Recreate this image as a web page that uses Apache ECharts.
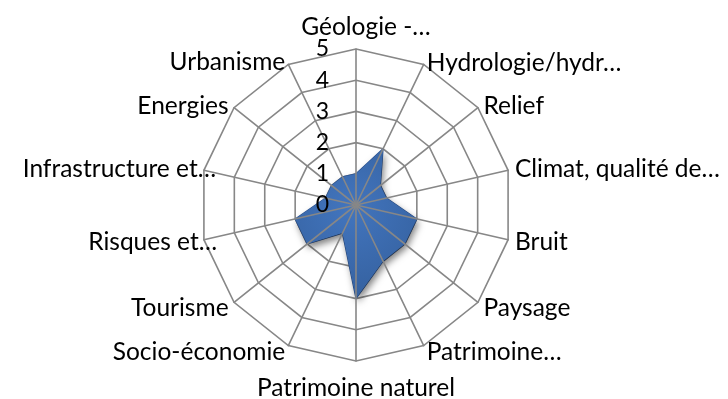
<!DOCTYPE html>
<html>
<head>
<meta charset="utf-8">
<script src="https://cdn.jsdelivr.net/npm/echarts@6/dist/echarts.min.js"></script>
<style>
  html, body { margin: 0; padding: 0; background: #ffffff; }
  #chart { width: 728px; height: 399px; }
</style>
</head>
<body>
<div id="chart"></div>
<script>
// Themes of the assessment, listed clockwise from the top axis
const themes = [
  'Géologie -…',
  'Hydrologie/hydr…',
  'Relief',
  'Climat, qualité de…',
  'Bruit',
  'Paysage',
  'Patrimoine…',
  'Patrimoine naturel',
  'Socio-économie',
  'Tourisme',
  'Risques et…',
  'Infrastructure et…',
  'Energies',
  'Urbanisme'
];

// Score given to each theme (same order as above)
const scores = [1, 2, 1, 1, 2, 2, 2, 3, 1, 2, 2, 1, 1, 1];

// Scale of the radial axis: 0 … 5
const scaleMin = 0;
const scaleMax = 5;
const scaleSteps = 5;

const fontFamily = 'Lato, "Liberation Sans", sans-serif';

// Per-theme nudges of the axis names (text padding, [top, right, bottom, left])
const namePadding = [
  [0, 0, 2, 20],
  [10, 0, 0, 0],
  [6, 0, 0, 0],
  [0, 0, 0, 0],
  [2, 0, 0, 0],
  [3, 0, 0, 0],
  [0, 0, 0, 0],
  [8, 0, 0, 0],
  [0, 0, 0, 0],
  [2, 0, 0, 0],
  [2, -20, 0, 0],
  [0, -19, 0, 0],
  [6, 0, 0, 0],
  [8, 0, 0, 0]
];

// ECharts lays radar indicators out counter-clockwise; keep the first theme
// on top and reverse the rest so the themes read clockwise.
const order = [0].concat(themes.map((_, i) => i).slice(1).reverse());

const baseIndicators = order.map(i => ({ name: themes[i], min: scaleMin, max: scaleMax }));
// Spoke overlay: same axes, with the tick labels shown on the top one only
const spokeIndicators = order.map((i, k) => {
  const item = { name: themes[i], min: scaleMin, max: scaleMax };
  if (k === 0) item.axisLabel = { show: true };
  return item;
});
const values = order.map(i => scores[i]);

const nameRich = {};
themes.forEach((_, i) => {
  nameRich['t' + i] = {
    color: '#000000',
    fontFamily: fontFamily,
    fontSize: 24.5,
    padding: namePadding[i]
  };
});

const gridColor = '#878787';
const center = [356, 205];
const radius = 156;

const chart = echarts.init(document.getElementById('chart'), null, { renderer: 'canvas' });
chart.setOption({
  animation: false,
  backgroundColor: '#ffffff',
  radar: [
    {
      // Rings and theme names, beneath the filled area
      center: center,
      radius: radius,
      startAngle: 90,
      splitNumber: scaleSteps,
      shape: 'polygon',
      indicator: baseIndicators,
      nameGap: 7,
      axisName: {
        color: '#000000',
        fontFamily: fontFamily,
        fontSize: 24.5,
        formatter: function (name) {
          return '{t' + themes.indexOf(name) + '|' + name + '}';
        },
        rich: nameRich
      },
      splitLine: { lineStyle: { color: gridColor, width: 1.6 } },
      splitArea: { show: false },
      axisLine: { show: false },
      axisTick: { show: false },
      axisLabel: { show: false },
      z: 0
    },
    {
      // Spokes and tick labels, drawn over the filled area
      center: center,
      radius: radius,
      startAngle: 90,
      splitNumber: scaleSteps,
      shape: 'polygon',
      indicator: spokeIndicators,
      axisName: { show: false },
      splitLine: { show: false },
      splitArea: { show: false },
      axisLine: { show: true, lineStyle: { color: gridColor, width: 1.6 } },
      axisTick: { show: false },
      axisLabel: {
        show: false,
        color: '#000000',
        fontFamily: fontFamily,
        fontSize: 23,
        margin: 27,
        padding: [16, 0, 0, 0]
      },
      z: 5
    }
  ],
  series: [
    {
      type: 'radar',
      radarIndex: 0,
      z: 2,
      symbol: 'none',
      data: [{ value: values, name: 'Score' }],
      lineStyle: { color: '#2c5596', width: 1.2 },
      areaStyle: {
        color: {
          type: 'radial', x: 0.45, y: 0.4, r: 0.75,
          colorStops: [
            { offset: 0, color: '#4275be' },
            { offset: 1, color: '#35619f' }
          ]
        },
        opacity: 1,
        shadowBlur: 7,
        shadowColor: 'rgba(0,0,0,0.5)',
        shadowOffsetX: 2,
        shadowOffsetY: 4
      }
    }
  ]
});
</script>
</body>
</html>
